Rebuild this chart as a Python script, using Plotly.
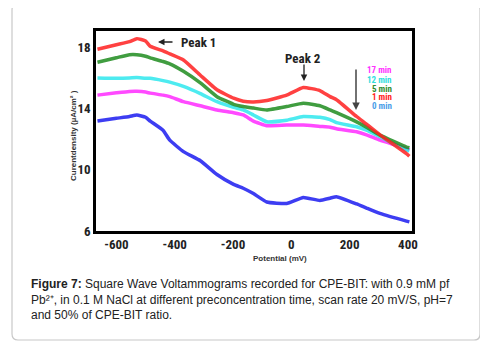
import plotly.graph_objects as go

# Potentials (mV) sampled along the curves
potential = [-665, -600, -555, -530, -500, -484, -440, -417, -370, -312, -255, -198, -165, -130, -84, -16, 41, 98, 133, 155, 224, 258, 304, 395, 405]

min1 = [17.9, 18.2, 18.4, 18.6, 18.45, 18.1, 17.8, 17.6, 17.2, 16.2, 15.25, 14.7, 14.5, 14.45, 14.55, 14.9, 15.4, 15.2, 14.8, 14.6, 13.5, 13.0, 12.3, 11.07, 10.9]
min5 = [17.05, 17.35, 17.55, 17.55, 17.45, 17.34, 17.1, 16.95, 16.46, 15.7, 14.8, 14.3, 14.15, 14.05, 13.93, 14.15, 14.37, 14.2, 13.93, 13.75, 13.15, 12.8, 12.28, 11.5, 11.45]
min12 = [16.02, 16.0, 16.02, 16.05, 16.0, 16.0, 15.85, 15.75, 15.47, 15.0, 14.47, 14.1, 13.93, 13.6, 13.15, 13.26, 13.5, 13.45, 13.3, 13.1, 12.83, 12.6, 12.17, 11.3, 11.25]
min17 = [14.9, 15.05, 15.14, 15.15, 15.1, 15.03, 14.9, 14.8, 14.47, 14.2, 13.93, 13.75, 13.6, 13.2, 12.9, 12.94, 12.94, 12.85, 12.8, 12.7, 12.5, 12.3, 11.95, 11.4, 11.3]
min0 = [13.2, 13.38, 13.5, 13.6, 13.45, 13.2, 12.6, 11.95, 11.2, 10.6, 9.7, 9.05, 8.8, 8.45, 7.9, 7.8, 8.2, 8.0, 8.15, 8.25, 7.77, 7.5, 7.15, 6.65, 6.6]

series = [("0 min", min0, "#1c1cf0"), ("17 min", min17, "#ff2bff"), ("12 min", min12, "#2ee8ee"),
          ("5 min", min5, "#1f8c1f"), ("1 min", min1, "#ff2020")]
legend_order = [("17 min", "#ff33ff"), ("12 min", "#33dddd"), ("5 min", "#2e8b2e"), ("1 min", "#ff2222"), ("0 min", "#4a9ee8")]

x_ticks = [-600, -400, -200, 0, 200, 400]
y_ticks = [6, 10, 14, 18]

fig = go.Figure()
for name, vals, col in series:
    fig.add_trace(go.Scatter(x=potential, y=vals, mode="lines", name=name,
                             line=dict(color=col, width=3.5, shape="spline", smoothing=0.4),
                             opacity=0.85, showlegend=False))

OFF = 8  # browser default body margin
L, R, T, B = 96, 412, 31, 231
W, H = 488 - OFF, 344 - OFF
def px(xp): return (xp - L) / (R - L)
def py(yp): return (B - yp) / (B - T)

NARROW = "Liberation Sans Narrow, Roboto Condensed, Liberation Sans, Arial"
tickfont = dict(family=NARROW, size=13, color="#222")
fig.update_layout(
    width=W, height=H, margin=dict(l=L - OFF, r=488 - R, t=T - OFF, b=344 - B),
    plot_bgcolor="white", paper_bgcolor="white",
    xaxis=dict(range=[-670, 414], tickvals=x_ticks, ticktext=[f"<b>{v}</b>" for v in x_ticks],
               showgrid=False, zeroline=False, showline=True, linecolor="black", linewidth=2.5,
               mirror=True, ticks="", tickfont=tickfont),
    yaxis=dict(range=[6, 19.1], tickvals=y_ticks, ticktext=[f"<b>{v}</b>" for v in y_ticks],
               showgrid=False, zeroline=False, showline=True, linecolor="black", linewidth=2.5,
               mirror=True, ticks="", tickfont=tickfont),
)

ann_font = dict(family=NARROW, size=13, color="#222")
anns = []
# Peak 1
anns.append(dict(xref="paper", yref="paper", x=px(179), y=py(42), text="<b>Peak 1</b>", showarrow=False,
                 xanchor="left", yanchor="middle", font=ann_font))
anns.append(dict(xref="paper", yref="paper", x=px(158), y=py(42), ax=16, ay=0,
                 text="", showarrow=True, arrowhead=2, arrowsize=1, arrowwidth=1.3, arrowcolor="#222"))
# Peak 2
anns.append(dict(xref="paper", yref="paper", x=px(303), y=py(58), text="<b>Peak 2</b>", showarrow=False,
                 xanchor="center", yanchor="middle", font=ann_font))
anns.append(dict(xref="paper", yref="paper", x=px(304), y=py(81), ax=0, ay=-18,
                 text="", showarrow=True, arrowhead=2, arrowsize=1, arrowwidth=1.3, arrowcolor="#222"))
# Legend arrow
anns.append(dict(xref="paper", yref="paper", x=px(356), y=py(110), ax=0, ay=-42,
                 text="", showarrow=True, arrowhead=2, arrowsize=1, arrowwidth=1.5, arrowcolor="#444"))
leg_y = [70, 80, 89, 97, 106]
for (name, col), yy in zip(legend_order, leg_y):
    anns.append(dict(xref="paper", yref="paper", x=px(394), y=py(yy), text=f"<b>{name}</b>", showarrow=False,
                     xanchor="right", yanchor="middle",
                     font=dict(family=NARROW, size=9, color=col)))
# axis titles
anns.append(dict(xref="paper", yref="paper", x=px(73), y=py(136), text="<b>Curentdensity (µA/cm² )</b>",
                 showarrow=False, textangle=-90, xanchor="center", yanchor="middle",
                 font=dict(family="Liberation Sans, Arial", size=8, color="#333")))
anns.append(dict(xref="paper", yref="paper", x=px(280), y=py(258), text="<b>Potential (mV)</b>",
                 showarrow=False, xanchor="center", yanchor="middle",
                 font=dict(family="Liberation Sans, Arial", size=8, color="#333")))
# caption
caption = ("<b>Figure 7:</b> Square Wave Voltammograms recorded for CPE-BIT: with 0.9 mM pf<br>"
           "Pb²⁺, in 0.1 M NaCl at different preconcentration time, scan rate 20 mV/S, pH=7<br>"
           "and 50% of CPE-BIT ratio.")
anns.append(dict(xref="paper", yref="paper", x=px(29), y=py(275), text=caption, showarrow=False,
                 xanchor="left", yanchor="top", align="left",
                 font=dict(family="Liberation Sans, Arial", size=12, color="#222")))
fig.update_layout(annotations=anns)

# outer rounded box
x0, x1, y0, y1 = px(12), px(480), py(340), py(4)
rx, ry = 6 / (R - L), 6 / (B - T)
path = (f"M {x0+rx},{y0} L {x1-rx},{y0} Q {x1},{y0} {x1},{y0+ry} L {x1},{y1-ry} Q {x1},{y1} {x1-rx},{y1} "
        f"L {x0+rx},{y1} Q {x0},{y1} {x0},{y1-ry} L {x0},{y0+ry} Q {x0},{y0} {x0+rx},{y0} Z")
fig.add_shape(type="path", xref="paper", yref="paper", path=path, line=dict(color="#c8c8c8", width=1.2),
              layer="below")

fig.write_html("out.html")
